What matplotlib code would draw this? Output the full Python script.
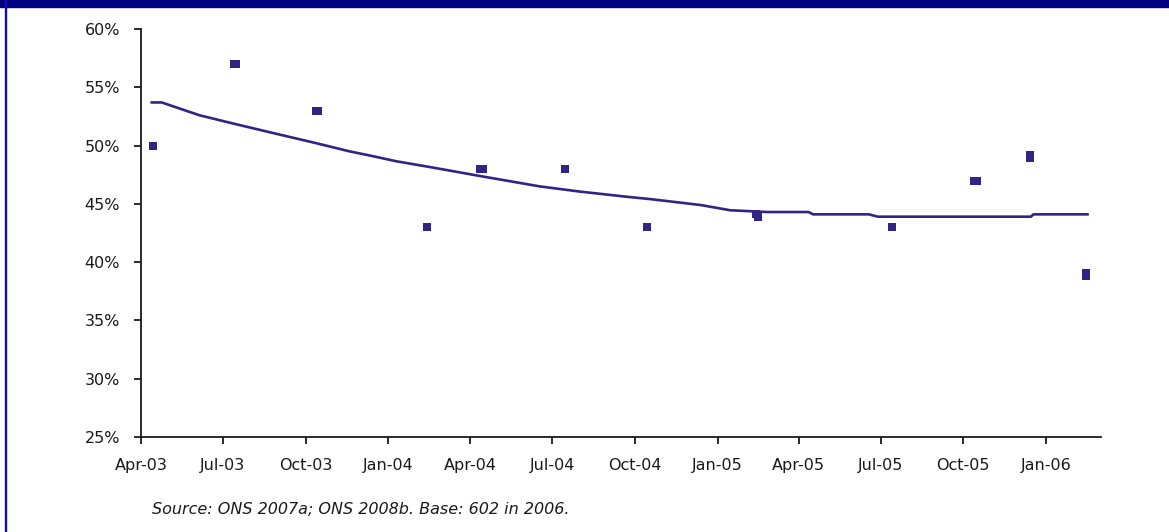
import numpy as np
import pandas as pd
import matplotlib
matplotlib.use('Agg')
import matplotlib.pyplot as plt
import matplotlib.dates as mdates
from matplotlib.patches import Rectangle

# survey points (pairs on close dates show as one wider/taller square)
point_dates = ['2003-04-14', '2003-07-13', '2003-07-16', '2003-10-12', '2003-10-15',
               '2004-02-13', '2004-04-12', '2004-04-15', '2004-07-15', '2004-10-14',
               '2005-02-12', '2005-02-15', '2005-07-14', '2005-10-13', '2005-10-16',
               '2005-12-14', '2005-12-14', '2006-02-14', '2006-02-14']
point_values = [50.0, 57.0, 57.0, 53.0, 53.0,
                43.0, 48.0, 48.0, 48.0, 43.0,
                44.15, 43.85, 43.0, 47.0, 47.0,
                49.2, 48.9, 39.1, 38.8]

# trend line
trend_dates = ['2003-04-13', '2003-04-24', '2003-06-05', '2003-07-12', '2003-08-19',
               '2003-10-13', '2003-11-19', '2003-12-08', '2004-01-10', '2004-02-13',
               '2004-04-11', '2004-06-17', '2004-08-01', '2004-09-23', '2004-10-19',
               '2004-12-13', '2005-01-15', '2005-02-25', '2005-04-12', '2005-04-17',
               '2005-06-18', '2005-06-28', '2005-12-15', '2005-12-18', '2006-02-16']
trend_values = [53.7, 53.7, 52.6, 51.9, 51.2,
                50.2, 49.5, 49.2, 48.65, 48.2,
                47.4, 46.5, 46.05, 45.6, 45.4,
                44.9, 44.45, 44.3, 44.3, 44.1,
                44.1, 43.9, 43.9, 44.1, 44.1]

y_ticks = [25, 30, 35, 40, 45, 50, 55, 60]
source_text = 'Source: ONS 2007a; ONS 2008b. Base: 602 in 2006.'

navy = '#2F2586'
W, H = 1169, 532

plt.rcParams['font.family'] = ['DejaVu Sans']
fig = plt.figure(figsize=(W / 100, H / 100), dpi=100)
ax = fig.add_axes([141 / W, 1 - 437 / H, (1101 - 141) / W, (437 - 29) / H])

px = pd.to_datetime(point_dates)
tx = pd.to_datetime(trend_dates)
ax.plot(tx, trend_values, color=navy, lw=1.9, solid_joinstyle='miter')
ax.plot(px, point_values, ls='none', marker='s', ms=5.4, color=navy, mec=navy, mew=0)

ax.set_xlim(pd.Timestamp('2003-04-01'), pd.Timestamp('2006-03-03'))
ax.set_ylim(25, 60)
ax.set_yticks(y_ticks)
ax.set_yticklabels(['%d%%' % v for v in y_ticks])
ax.xaxis.set_major_locator(mdates.MonthLocator(bymonth=[1, 4, 7, 10]))
ax.xaxis.set_major_formatter(mdates.DateFormatter('%b-%y'))

for side in ['top', 'right']:
    ax.spines[side].set_visible(False)
for side in ['left', 'bottom']:
    ax.spines[side].set_linewidth(1.3)
    ax.spines[side].set_color('#1a1a1a')
ax.tick_params(axis='both', direction='out', length=5, width=1.3, color='#1a1a1a',
               labelsize=11.5, labelcolor='#1a1a1a')
ax.tick_params(axis='y', pad=10)
ax.tick_params(axis='x', pad=10)

fig.text(152 / W, 1 - 510 / H, source_text, fontsize=11.5, style='italic',
         color='#1a1a1a', ha='left', va='center')

# frame: navy bar on top and thin blue rule on the left
fig.patches.append(Rectangle((0, 1 - 7 / H), 1, 7 / H, transform=fig.transFigure,
                             color='#000080', zorder=5))
fig.patches.append(Rectangle((5 / W, 0), 1.2 / W, 1, transform=fig.transFigure,
                             color='#1010B0', zorder=5))

fig.savefig('out.png', dpi=100)
